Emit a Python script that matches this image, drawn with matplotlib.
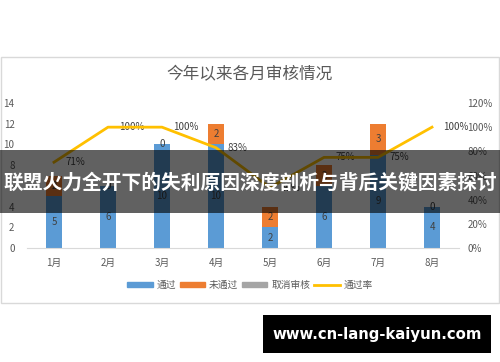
import numpy as np
import matplotlib.pyplot as plt
from matplotlib.patches import Rectangle
from matplotlib.lines import Line2D

plt.rcParams['font.family'] = ['Noto Sans CJK SC', 'DejaVu Sans']

# data
months = ['1月', '2月', '3月', '4月', '5月', '6月', '7月', '8月']
passed = [5, 6, 10, 10, 2, 6, 9, 4]
failed = [2, 0, 0, 2, 2, 2, 3, 0]
cancelled = [0, 0, 0, 0, 0, 0, 0, 0]
rate = [0.71, 1.00, 1.00, 0.83, 0.50, 0.75, 0.75, 1.00]
rate_labels = ['71%', '100%', '100%', '83%', '50%', '75%', '75%', '100%']

C_PASS = '#5B9BD5'
C_FAIL = '#ED7D31'
C_CANCEL = '#A5A5A5'
C_RATE = '#FFC000'
C_TEXT = '#595959'

W, H = 500, 362
fig = plt.figure(figsize=(W / 100, H / 100), dpi=100)


def fx(px):
    return px / W


def fy(py):
    return 1 - py / H


# chart border
fig.add_artist(Rectangle((fx(1), fy(303)), fx(498), (303 - 57) / H,
                         transform=fig.transFigure, fill=False,
                         edgecolor='#d9d9d9', linewidth=1))

ax = fig.add_axes([fx(27), fy(248), fx(432), (248 - 103) / H])
x = np.arange(len(months))
bw = 0.3
ax.bar(x, passed, bw, color=C_PASS, zorder=2)
ax.bar(x, failed, bw, bottom=passed, color=C_FAIL, zorder=2)
bottom2 = np.array(passed) + np.array(failed)
ax.bar(x, cancelled, bw, bottom=bottom2, color=C_CANCEL, zorder=2)

for i in range(len(months)):
    ax.text(x[i], passed[i] / 2, str(passed[i]), ha='center', va='center',
            fontsize=7, color='#404040', zorder=3)
    ax.text(x[i], passed[i] + failed[i] / 2, str(failed[i]), ha='center',
            va='center', fontsize=7, color='#404040', zorder=3)

ax.set_xlim(-0.5, len(months) - 0.5)
ax.set_ylim(0, 14)
ax.set_yticks(range(0, 15, 2))
ax.set_xticks(x)
ax.set_xticklabels(months)
ax.tick_params(axis='both', length=0, labelsize=7, colors=C_TEXT)
ax.tick_params(axis='x', pad=7)
ax.tick_params(axis='y', pad=9)
for s in ['top', 'left', 'right']:
    ax.spines[s].set_visible(False)
ax.spines['bottom'].set_color('#d9d9d9')
ax.patch.set_visible(False)

ax2 = ax.twinx()
ax2.plot(x, rate, color=C_RATE, linewidth=2, zorder=4)
for i in range(len(months)):
    ax2.annotate(rate_labels[i], (x[i], rate[i]), xytext=(8, 0),
                 textcoords='offset points', ha='left', va='center',
                 fontsize=7, color='#404040')
ax2.set_ylim(0, 1.2)
ax2.set_yticks(np.arange(0, 1.21, 0.2))
ax2.set_yticklabels(['0%', '20%', '40%', '60%', '80%', '100%', '120%'])
ax2.tick_params(axis='y', length=0, labelsize=7, colors=C_TEXT, pad=6)
for s in ['top', 'left', 'right', 'bottom']:
    ax2.spines[s].set_visible(False)

fig.text(0.5, fy(75), '今年以来各月审核情况', ha='center', va='center',
         fontsize=12, color=C_TEXT)

handles = [
    Rectangle((0, 0), 1, 1, color=C_PASS),
    Rectangle((0, 0), 1, 1, color=C_FAIL),
    Rectangle((0, 0), 1, 1, color=C_CANCEL),
    Line2D([0], [0], color=C_RATE, linewidth=2),
]
fig.legend(handles, ['通过', '未通过', '取消审核', '通过率'], ncol=4,
           loc='center', bbox_to_anchor=(0.5, fy(285)), frameon=False,
           fontsize=7, labelcolor=C_TEXT, handlelength=2.6, handleheight=0.5,
           handletextpad=0.4, columnspacing=0.4)

# dark banner across the chart
fig.add_artist(Rectangle((0, fy(213)), 1, (213 - 150) / H,
                         transform=fig.transFigure, facecolor='black',
                         alpha=0.62, edgecolor='none', zorder=10))
fig.text(0.5, fy(183), '联盟火力全开下的失利原因深度剖析与背后关键因素探讨',
         ha='center', va='center', fontsize=14.2, fontweight='bold',
         color='white', zorder=11)

# site box bottom right
fig.add_artist(Rectangle((fx(263), fy(353)), fx(228), (353 - 315) / H,
                         transform=fig.transFigure, facecolor='black',
                         edgecolor='none', zorder=10))
fig.text(fx(377), fy(334), 'www.cn-lang-kaiyun.com', ha='center', va='center',
         fontsize=10.7, fontweight='bold', color='white',
         family='DejaVu Sans', zorder=11)

fig.savefig('out.png', dpi=100)
